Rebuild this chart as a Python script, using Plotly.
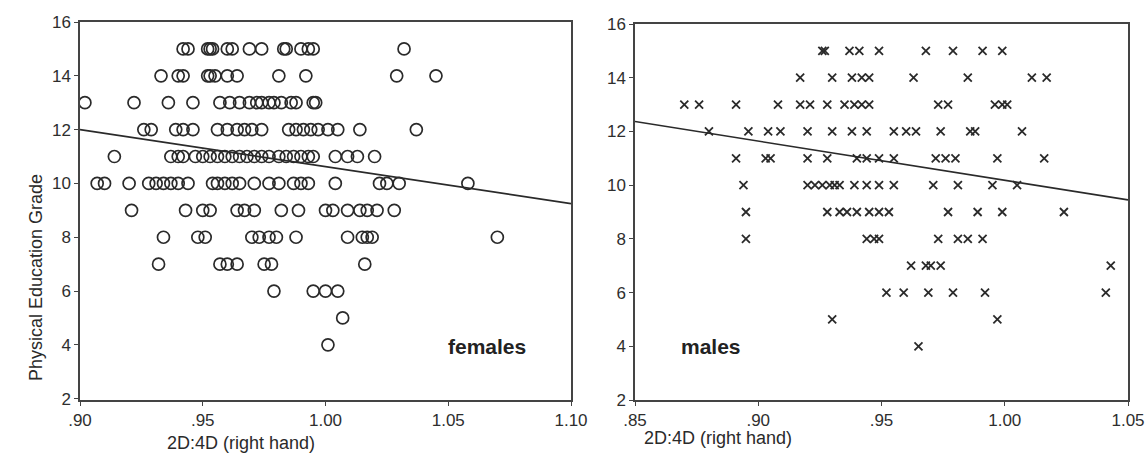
import plotly.graph_objects as go

# ---------------- data ----------------
fem_15 = [.942, .944, .952, .953, .954, .960, .962, .969, .974, .983, .984, .990, .993, .995, 1.032]
fem_14 = [.933, .940, .942, .952, .953, .955, .960, .964, .981, .992, 1.029, 1.045]
fem_13 = [.902, .922, .936, .946, .957, .961, .965, .969, .972, .974, .977, .979, .982, .986, .988, .995, .996]
fem_12 = [.926, .929, .939, .942, .946, .956, .960, .964, .967, .970, .974, .985, .988, .991, .994, .997, 1.001, 1.005, 1.014, 1.037]
fem_11 = [.914, .937, .940, .942, .947, .950, .953, .956, .959, .962, .965, .968, .971, .974, .977, .981, .984, .987, .990, .993, .995, 1.004, 1.009, 1.013, 1.020]
fem_10 = [.907, .910, .920, .928, .931, .934, .937, .940, .944, .954, .956, .959, .962, .965, .971, .977, .981, .987, .990, .993, 1.004, 1.022, 1.025, 1.030, 1.058]
fem_9 = [.921, .943, .950, .953, .964, .967, .971, .982, .989, 1.000, 1.003, 1.009, 1.014, 1.017, 1.021, 1.028]
fem_8 = [.934, .948, .951, .970, .973, .977, .980, .988, 1.009, 1.015, 1.017, 1.019, 1.070]
fem_7 = [.932, .957, .960, .964, .975, .978, 1.016]
fem_6 = [.979, .995, 1.000, 1.005]
fem_5 = [1.007]
fem_4 = [1.001]

male_15 = [.926, .927, .937, .941, .949, .968, .979, .991, .999]
male_14 = [.917, .930, .938, .942, .945, .963, .985, 1.011, 1.017]
male_13 = [.870, .876, .891, .908, .917, .921, .928, .935, .939, .942, .945, .973, .977, .996, .999, 1.001]
male_12 = [.880, .896, .904, .909, .920, .930, .938, .944, .955, .960, .964, .974, .986, .988, 1.007]
male_11 = [.891, .903, .905, .920, .928, .940, .944, .949, .955, .972, .976, .980, .997, 1.016]
male_10 = [.894, .920, .923, .926, .929, .931, .933, .939, .944, .949, .955, .971, .981, .995, 1.005]
male_9 = [.895, .928, .933, .936, .940, .945, .949, .953, .977, .989, .999, 1.024]
male_8 = [.895, .944, .947, .949, .973, .981, .985, .991]
male_7 = [.962, .968, .970, .974, 1.043]
male_6 = [.952, .959, .969, .979, .992, 1.041]
male_5 = [.930, .997]
male_4 = [.965]

fem_rows = {15: fem_15, 14: fem_14, 13: fem_13, 12: fem_12, 11: fem_11, 10: fem_10,
            9: fem_9, 8: fem_8, 7: fem_7, 6: fem_6, 5: fem_5, 4: fem_4}
male_rows = {15: male_15, 14: male_14, 13: male_13, 12: male_12, 11: male_11, 10: male_10,
             9: male_9, 8: male_8, 7: male_7, 6: male_6, 5: male_5, 4: male_4}

fem_fit_x = [0.90, 1.10]
fem_fit_y = [12.0, 9.25]
male_fit_x = [0.85, 1.05]
male_fit_y = [12.37, 9.45]

fem_ticks = [0.90, 0.95, 1.00, 1.05, 1.10]
fem_ticktext = [".90", ".95", "1.00", "1.05", "1.10"]
male_ticks = [0.85, 0.90, 0.95, 1.00, 1.05]
male_ticktext = [".85", ".90", ".95", "1.00", "1.05"]
y_ticks = [2, 4, 6, 8, 10, 12, 14, 16]

# ---------------- build ----------------
def flatten(rows):
    xs, ys = [], []
    for grade, vals in rows.items():
        xs.extend(vals)
        ys.extend([grade] * len(vals))
    return xs, ys

fx, fy = flatten(fem_rows)
mx, my = flatten(male_rows)

INK = "#2a2a2a"
W, H = 1146, 469

fig = go.Figure()
fig.add_trace(go.Scatter(x=fx, y=fy, mode="markers", xaxis="x", yaxis="y",
                         marker=dict(symbol="circle-open", size=12, color=INK,
                                     line=dict(width=1.7, color=INK)),
                         showlegend=False))
fig.add_trace(go.Scatter(x=fem_fit_x, y=fem_fit_y, mode="lines", xaxis="x", yaxis="y",
                         line=dict(color=INK, width=1.6), showlegend=False))
fig.add_trace(go.Scatter(x=mx, y=my, mode="markers", xaxis="x2", yaxis="y2",
                         marker=dict(symbol="x-thin-open", size=8, color=INK,
                                     line=dict(width=1.8, color=INK)),
                         showlegend=False))
fig.add_trace(go.Scatter(x=male_fit_x, y=male_fit_y, mode="lines", xaxis="x2", yaxis="y2",
                         line=dict(color=INK, width=1.6), showlegend=False))

tickfont = dict(family="Liberation Sans, Arial, sans-serif", size=17, color="#2e2e2e")
axis_common = dict(showline=True, linecolor="#444", linewidth=1.5, mirror=True,
                   showgrid=False, zeroline=False, ticks="outside", ticklen=4,
                   tickcolor="#444", tickfont=tickfont, automargin=False)

def px2paper_x(px):
    return px / W

def px2paper_y(py):
    return 1 - py / H

fig.update_layout(
    width=W, height=H,
    margin=dict(l=0, r=0, t=0, b=0, autoexpand=False),
    paper_bgcolor="white", plot_bgcolor="white",
    xaxis=dict(domain=[px2paper_x(80), px2paper_x(571)], range=[0.90, 1.10],
               tickvals=fem_ticks, ticktext=fem_ticktext, anchor="y", **axis_common),
    yaxis=dict(domain=[px2paper_y(400), px2paper_y(22)], range=[1.95, 16],
               tickvals=y_ticks, anchor="x", **axis_common),
    xaxis2=dict(domain=[px2paper_x(635), px2paper_x(1128)], range=[0.85, 1.05],
                tickvals=male_ticks, ticktext=male_ticktext, anchor="y2", **axis_common),
    yaxis2=dict(domain=[px2paper_y(400), px2paper_y(24)], range=[2, 16],
                tickvals=y_ticks, anchor="x2", **axis_common),
)

labfont = dict(family="Liberation Sans, Arial, sans-serif", size=18, color="#2a2a2a")
fig.add_annotation(text="Physical Education Grade", textangle=-90, xref="paper", yref="paper",
                   x=px2paper_x(24), y=px2paper_y(278), showarrow=False, font=labfont)
fig.add_annotation(text="2D:4D (right hand)", xref="paper", yref="paper",
                   x=px2paper_x(165), y=px2paper_y(455), showarrow=False, font=labfont)
fig.add_annotation(text="2D:4D (right hand)", xref="paper", yref="paper",
                   x=px2paper_x(718), y=px2paper_y(450), showarrow=False, font=labfont)
boldfont = dict(family="Liberation Sans, Arial, sans-serif", size=21, color="#222")
fig.add_annotation(text="<b>females</b>", xref="paper", yref="paper",
                   x=px2paper_x(487), y=px2paper_y(360), showarrow=False, font=boldfont)
fig.add_annotation(text="<b>males</b>", xref="paper", yref="paper",
                   x=px2paper_x(711), y=px2paper_y(360), showarrow=False, font=boldfont)

fig.write_html("out.html",
               config={"displayModeBar": False},
               post_script="document.body.style.margin='0';document.body.style.overflow='hidden';")
